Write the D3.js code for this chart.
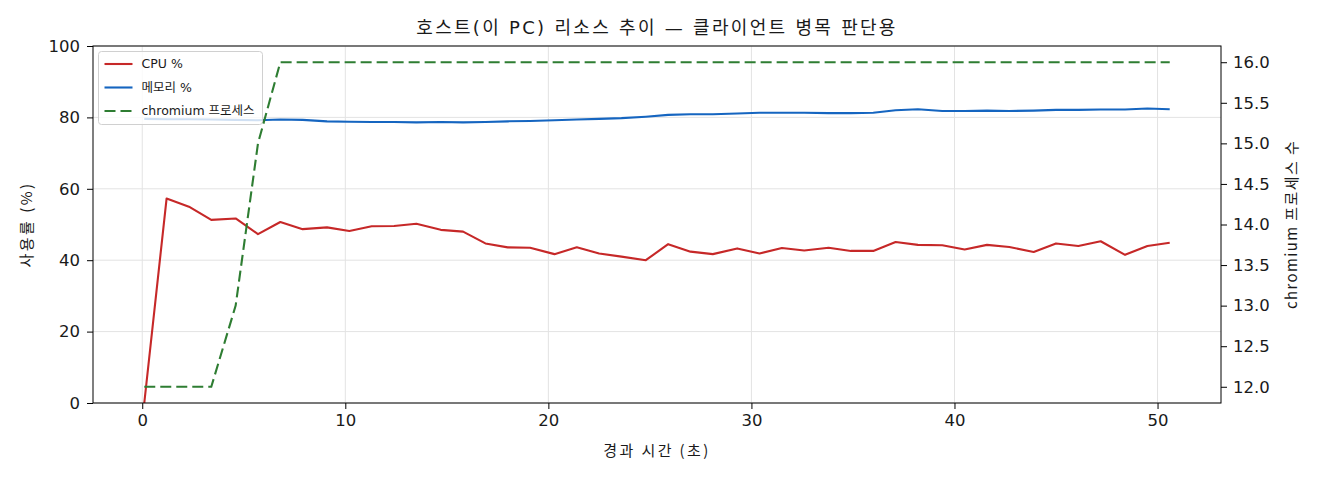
<!DOCTYPE html>
<html>
<head>
<meta charset="utf-8">
<script src="https://cdn.jsdelivr.net/npm/d3@7"></script>
<style>
body { margin: 0; background: #fff; }
text { font-family: "DejaVu Sans", "Noto Sans CJK KR", sans-serif; fill: #1a1a1a; }
.lbl { font-family: "Noto Sans CJK KR", sans-serif; }
</style>
</head>
<body>
<div id="chart"></div>
<script>
// elapsed seconds for each sample
const times = [0.1, 1.2, 2.3, 3.4, 4.6, 5.7, 6.8, 7.9, 9.1, 10.2, 11.3, 12.4, 13.5, 14.7, 15.8, 16.9,
    18.0, 19.1, 20.3, 21.4, 22.5, 23.6, 24.8, 25.9, 27.0, 28.1, 29.3, 30.4, 31.5, 32.6, 33.8, 34.9,
    36.0, 37.1, 38.2, 39.4, 40.5, 41.6, 42.7, 43.9, 45.0, 46.1, 47.2, 48.4, 49.5, 50.6];
const cpu = [0, 57.3, 55.0, 51.3, 51.7, 47.3, 50.7, 48.7, 49.2, 48.2, 49.5, 49.6, 50.2, 48.5, 48.0, 44.7,
    43.6, 43.5, 41.7, 43.6, 41.9, 41.0, 40.0, 44.5, 42.4, 41.7, 43.3, 41.9, 43.4, 42.7, 43.5, 42.6,
    42.6, 45.1, 44.3, 44.2, 43.0, 44.3, 43.7, 42.3, 44.7, 44.0, 45.3, 41.5, 44.0, 44.9];
const mem = [79.6, 79.5, 79.5, 79.4, 79.3, 79.2, 79.4, 79.3, 78.9, 78.8, 78.7, 78.7, 78.6, 78.7, 78.6, 78.7,
    78.9, 79.0, 79.2, 79.4, 79.6, 79.8, 80.2, 80.7, 80.9, 80.9, 81.1, 81.3, 81.3, 81.3, 81.2, 81.2,
    81.3, 82.0, 82.3, 81.8, 81.8, 81.9, 81.8, 81.9, 82.1, 82.1, 82.2, 82.2, 82.5, 82.3];
const chromium = [12, 12, 12, 12, 13, 15, 16, 16, 16, 16, 16, 16, 16, 16, 16, 16,
    16, 16, 16, 16, 16, 16, 16, 16, 16, 16, 16, 16, 16, 16, 16, 16,
    16, 16, 16, 16, 16, 16, 16, 16, 16, 16, 16, 16, 16, 16];

const xTicks = [0, 10, 20, 30, 40, 50];
const leftTicks = [0, 20, 40, 60, 80, 100];
const rightTicks = [12.0, 12.5, 13.0, 13.5, 14.0, 14.5, 15.0, 15.5, 16.0];
const seriesNames = ['CPU %', '메모리 %', 'chromium 프로세스'];

const width = 1320, height = 480;
const margin = {top: 46, right: 99, bottom: 77, left: 93};
const iw = width - margin.left - margin.right;
const ih = height - margin.top - margin.bottom;

function padded(ext) {
    const p = (ext[1] - ext[0]) * 0.05;
    return [ext[0] - p, ext[1] + p];
}

const x = d3.scaleLinear().domain(padded(d3.extent(times))).range([0, iw]);
const yL = d3.scaleLinear().domain([0, 100]).range([ih, 0]);
const yR = d3.scaleLinear().domain(padded(d3.extent(chromium))).range([ih, 0]);

const svg = d3.select('#chart').append('svg').attr('width', width).attr('height', height);
const g = svg.append('g').attr('transform', `translate(${margin.left},${margin.top})`);

// grid (primary axis only)
g.append('g').selectAll('line').data(xTicks).enter().append('line')
    .attr('x1', d => x(d)).attr('x2', d => x(d)).attr('y1', 0).attr('y2', ih)
    .attr('stroke', '#e3e3e3').attr('stroke-width', 1);
g.append('g').selectAll('line').data(leftTicks).enter().append('line')
    .attr('x1', 0).attr('x2', iw).attr('y1', d => yL(d)).attr('y2', d => yL(d))
    .attr('stroke', '#e3e3e3').attr('stroke-width', 1);

const cpuLine = d3.line().x((d, i) => x(times[i])).y(d => yL(d));
const rLine = d3.line().x((d, i) => x(times[i])).y(d => yR(d));

g.append('path').datum(cpu).attr('d', cpuLine)
    .attr('fill', 'none').attr('stroke', '#c62828').attr('stroke-width', 2.1).attr('stroke-linejoin', 'round');
g.append('path').datum(mem).attr('d', cpuLine)
    .attr('fill', 'none').attr('stroke', '#1565c0').attr('stroke-width', 2.1).attr('stroke-linejoin', 'round');

// legend (sits under the twin-axis line, like matplotlib)
const legend = g.append('g').attr('transform', 'translate(5.5,5.5)');
legend.append('rect').attr('width', 164).attr('height', 73).attr('rx', 3)
    .attr('fill', '#fff').attr('fill-opacity', 0.8).attr('stroke', '#d0d0d0').attr('stroke-width', 1);
const legendStyle = [
    {color: '#c62828', dash: null},
    {color: '#1565c0', dash: null},
    {color: '#2e7d32', dash: '11,5'}
];
seriesNames.forEach((name, i) => {
    const yy = 12.5 + i * 23.5;
    legend.append('line').attr('x1', 6).attr('x2', 34).attr('y1', yy).attr('y2', yy)
        .attr('stroke', legendStyle[i].color).attr('stroke-width', 2.1)
        .attr('stroke-dasharray', legendStyle[i].dash);
    legend.append('text').attr('x', 43).attr('y', yy).attr('dy', '0.35em')
        .style('font-size', '12.5px').text(name);
});

g.append('path').datum(chromium).attr('d', rLine)
    .attr('fill', 'none').attr('stroke', '#2e7d32').attr('stroke-width', 2.1)
    .attr('stroke-dasharray', '11,5');

// axes
const xAxis = g.append('g').attr('transform', `translate(0,${ih})`)
    .call(d3.axisBottom(x).tickValues(xTicks).tickSize(6).tickPadding(5).tickFormat(d3.format('d')));
const leftAxis = g.append('g')
    .call(d3.axisLeft(yL).tickValues(leftTicks).tickSize(6).tickPadding(7).tickFormat(d3.format('d')));
const rightAxis = g.append('g').attr('transform', `translate(${iw},0)`)
    .call(d3.axisRight(yR).tickValues(rightTicks).tickSize(6).tickPadding(6).tickFormat(d3.format('.1f')));
[xAxis, leftAxis, rightAxis].forEach(a => {
    a.select('.domain').remove();
    a.selectAll('.tick line').attr('stroke', '#000');
    a.selectAll('.tick text').style('font-size', '16.5px').attr('fill', '#1a1a1a')
        .style('font-family', '"DejaVu Sans", sans-serif');
});

// frame
g.append('rect').attr('width', iw).attr('height', ih)
    .attr('fill', 'none').attr('stroke', '#000').attr('stroke-width', 1);

// titles
svg.append('text').attr('x', margin.left + iw / 2).attr('y', 34)
    .attr('text-anchor', 'middle').style('font-size', '18px').style('letter-spacing', '2.3px')
    .text('호스트(이 PC) 리소스 추이 — 클라이언트 병목 판단용');
svg.append('text').attr('class', 'lbl').attr('x', margin.left + iw / 2).attr('y', 456)
    .attr('text-anchor', 'middle').style('font-size', '15px').style('letter-spacing', '2.4px')
    .text('경과 시간 (초)');
svg.append('text').attr('class', 'lbl').attr('transform', `translate(27,${margin.top + ih / 2}) rotate(-90)`)
    .attr('text-anchor', 'middle').attr('dy', '0.35em').style('font-size', '15px').style('letter-spacing', '2.5px')
    .text('사용률 (%)');
svg.append('text').attr('class', 'lbl').attr('transform', `translate(1292,${margin.top + ih / 2}) rotate(-90)`)
    .attr('text-anchor', 'middle').attr('dy', '0.35em').style('font-size', '15px').style('letter-spacing', '1.4px')
    .text('chromium 프로세스 수');
</script>
</body>
</html>
